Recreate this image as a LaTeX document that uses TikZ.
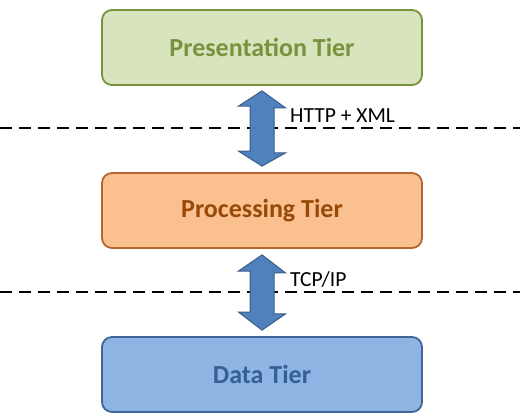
\documentclass[tikz,border=0pt]{standalone}
\usepackage{fontspec}
\setmainfont{Carlito}
\usetikzlibrary{calc}
\definecolor{gfill}{HTML}{D7E4BD}
\definecolor{gline}{HTML}{77933C}
\definecolor{ofill}{HTML}{FAC090}
\definecolor{oline}{HTML}{B5652E}
\definecolor{otext}{HTML}{984807}
\definecolor{bfill}{HTML}{8EB4E3}
\definecolor{bline}{HTML}{3E6698}
\definecolor{btext}{HTML}{376092}
\definecolor{afill}{HTML}{4F81BD}
\definecolor{aline}{HTML}{385D8A}
\begin{document}
\begin{tikzpicture}[x=1pt,y=1pt,
  tier/.style={draw, line width=1.8pt, rounded corners=10pt, minimum width=320pt, minimum height=75pt, font=\fontsize{26}{30}\selectfont\bfseries, inner sep=0pt},
  sep/.style={line width=1.3pt, dash pattern=on 12pt off 7pt},
  blockarrow/.style={fill=afill, draw=aline, line width=1pt, line join=miter},
  lbl/.style={font=\fontsize{21.5}{24}\selectfont, anchor=west, inner sep=0pt}
]
\useasboundingbox (0,0) rectangle (520,413);
\node[tier, fill=gfill, draw=gline, text=gline] (pres) at (262,365.5) {Presentation Tier};
\node[tier, fill=ofill, draw=oline, text=otext] (proc) at (262,202.5) {Processing Tier};
\node[tier, fill=bfill, draw=bline, text=btext] (data) at (262,38.5) {Data Tier};
% dashed separators
\coordinate (s1l) at (0,285);
\coordinate (s1r) at (520,285);
\coordinate (s2l) at (0,121);
\coordinate (s2r) at (520,121);
\draw[sep] (s1l) -- (s1r);
\draw[sep] (s2l) -- (s2r);
% block arrows
\coordinate (a1t) at ($(pres.south)+(0,-5)$);
\path[blockarrow] (a1t) -- ++(23.5,-17) -- ++(-11.5,0) -- ++(0,-45) -- ++(11.5,0) -- ($(proc.north)+(0,6)$) -- ++(-23.5,15) -- ++(11.5,0) -- ++(0,45) -- ++(-11.5,0) -- cycle;
\coordinate (a2t) at ($(proc.south)+(0,-6)$);
\path[blockarrow] (a2t) -- ++(23.5,-18) -- ++(-11.5,0) -- ++(0,-41) -- ++(11.5,0) -- ($(data.north)+(0,6)$) -- ++(-23.5,18) -- ++(11.5,0) -- ++(0,41) -- ++(-11.5,0) -- cycle;
\node[lbl] (l1) at (290,297) {HTTP + XML};
\node[lbl] (l2) at (290,134) {TCP/IP};
\end{tikzpicture}
\end{document}
